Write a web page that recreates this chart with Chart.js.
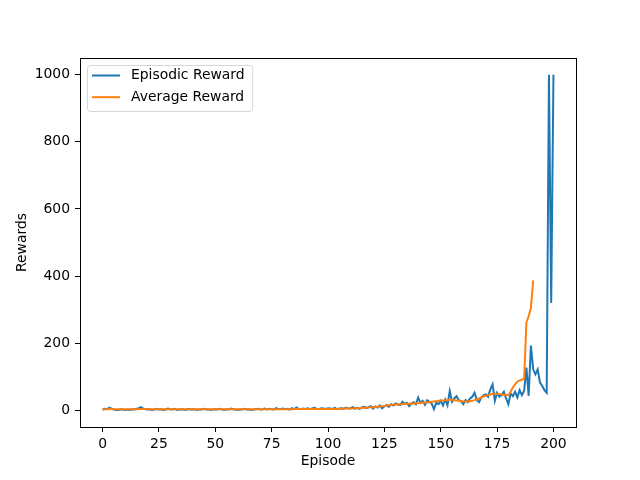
<!DOCTYPE html>
<html>
<head>
<meta charset="utf-8">
<script src="https://cdn.jsdelivr.net/npm/chart.js@4/dist/chart.umd.min.js"></script>
<style>
  html, body { margin: 0; padding: 0; background: #fff; }
  #wrap { width: 640px; height: 480px; }
</style>
</head>
<body>
<div id="wrap"><canvas id="myChart" width="640" height="480"></canvas></div>
<script>
// rewards per episode (episode = index)
const episodicReward = [
  2, 4, 3, 8, 5, 2, 1, 1, 3, 2,
  1, 2, 1, 3, 2, 4, 6, 9, 5, 3,
  2, 3, 1, 2, 4, 2, 3, 1, 2, 5,
  3, 2, 4, 1, 2, 3, 2, 1, 4, 2,
  3, 2, 1, 3, 2, 4, 2, 3, 1, 2,
  3, 2, 4, 2, 1, 3, 2, 5, 3, 2,
  1, 3, 2, 4, 2, 3, 1, 2, 3, 4,
  2, 3, 5, 2, 4, 3, 2, 6, 3, 4,
  5, 3, 4, 2, 6, 3, 8, 4, 3, 5,
  4, 6, 3, 5, 7, 4, 3, 6, 5, 4,
  6, 5, 4, 7, 3, 5, 6, 4, 8, 5,
  6, 9, 5, 7, 4, 8, 10, 6, 9, 12,
  5, 11, 8, 14, 6, 12, 16, 10, 18, 14,
  20, 17, 15, 25, 19, 22, 12, 20, 24, 18,
  38, 22, 28, 16, 30, 25, 20, 3, 22, 18,
  28, 14, 32, 15, 57, 25, 35, 42, 30, 27,
  18, 30, 24, 35, 40, 52, 30, 24, 38, 45,
  47, 40, 62, 77, 28, 52, 40, 45, 55, 35,
  18, 50, 42, 55, 38, 60, 45, 58, 127, 43,
  193, 122, 107, 122, 83, 72, 60, 52, 1000, 320,
  1000
];

const averageReward = [
  2, 3, 3, 4, 4, 3, 3, 3, 3, 3,
  3, 3, 3, 3, 3, 3, 3, 4, 4, 4,
  4, 3, 3, 3, 3, 3, 3, 3, 3, 3,
  3, 3, 3, 3, 3, 3, 3, 3, 3, 3,
  3, 3, 3, 3, 3, 3, 3, 3, 3, 3,
  3, 3, 3, 3, 3, 3, 3, 3, 3, 3,
  3, 3, 3, 3, 3, 3, 3, 3, 3, 3,
  3, 3, 3, 3, 3, 3, 3, 3, 3, 3,
  3, 3, 3, 3, 3, 4, 4, 4, 4, 4,
  4, 4, 4, 4, 4, 4, 4, 4, 4, 4,
  4, 4, 4, 4, 4, 4, 5, 5, 5, 5,
  5, 5, 6, 6, 6, 7, 7, 8, 8, 9,
  9, 10, 10, 11, 12, 13, 14, 15, 16, 16,
  17, 17, 18, 18, 19, 19, 19, 20, 20, 21,
  21, 22, 22, 23, 23, 24, 25, 26, 27, 28,
  29, 29, 30, 30, 31, 31, 30, 29, 28, 27,
  26, 26, 26, 27, 28, 30, 32, 35, 38, 41,
  43, 45, 47, 48, 49, 49, 48, 47, 46, 46,
  45, 55, 68, 78, 85, 89, 91, 94, 262, 280,
  305, 387
];

const seriesNames = ['Episodic Reward', 'Average Reward'];
const seriesColors = ['#1f77b4', '#ff7f0e'];
const xTicks = [0, 25, 50, 75, 100, 125, 150, 175, 200];
const yTicks = [0, 200, 400, 600, 800, 1000];

const FONT = "'DejaVu Sans', sans-serif";

const toPoints = arr => arr.map((v, i) => ({ x: i, y: v }));

// axes frame on all four sides, like matplotlib
const framePlugin = {
  id: 'frame',
  afterDraw(chart) {
    const { ctx, chartArea: a } = chart;
    ctx.save();
    ctx.strokeStyle = '#000';
    ctx.lineWidth = 1;
    ctx.strokeRect(Math.round(a.left) + 0.5, Math.round(a.top) + 0.5,
      Math.round(a.right - a.left), Math.round(a.bottom - a.top));
    ctx.restore();
  }
};

// legend box in the upper left of the axes
const boxLegend = {
  id: 'boxLegend',
  afterDraw(chart) {
    const { ctx, chartArea: a } = chart;
    ctx.save();
    ctx.font = '13.9px ' + FONT;
    const textX = a.left + 51;
    let maxW = 0;
    chart.data.datasets.forEach(ds => { maxW = Math.max(maxW, ctx.measureText(ds.label).width); });
    const bx = a.left + 7.5, by = a.top + 7.5;
    const bw = textX + maxW + 8 - bx, bh = 46;
    ctx.beginPath();
    ctx.roundRect(bx, by, bw, bh, 3);
    ctx.fillStyle = 'rgba(255,255,255,0.8)';
    ctx.fill();
    ctx.strokeStyle = 'rgba(204,204,204,0.8)';
    ctx.lineWidth = 1;
    ctx.stroke();
    chart.data.datasets.forEach((ds, i) => {
      const y = a.top + 17.5 + i * 21.7;
      ctx.beginPath();
      ctx.moveTo(a.left + 12, y);
      ctx.lineTo(a.left + 40, y);
      ctx.strokeStyle = ds.borderColor;
      ctx.lineWidth = 2;
      ctx.stroke();
      ctx.fillStyle = '#000';
      ctx.textBaseline = 'middle';
      ctx.fillText(ds.label, textX, y);
    });
    ctx.restore();
  }
};

const config = {
  type: 'line',
  data: {
    datasets: [{
      label: seriesNames[0],
      data: toPoints(episodicReward),
      borderColor: seriesColors[0],
      backgroundColor: seriesColors[0],
      borderWidth: 2,
      pointRadius: 0,
      order: 1
    }, {
      label: seriesNames[1],
      data: toPoints(averageReward),
      borderColor: seriesColors[1],
      backgroundColor: seriesColors[1],
      borderWidth: 2,
      pointRadius: 0,
      order: 0
    }]
  },
  options: {
    responsive: false,
    animation: false,
    layout: { padding: { top: 58, right: 64, left: 0, bottom: 0 } },
    scales: {
      x: {
        type: 'linear',
        min: -10,
        max: 210,
        afterBuildTicks: axis => { axis.ticks = xTicks.map(v => ({ value: v })); },
        afterFit: scale => { scale.height = 53; },
        border: { display: false },
        grid: { drawOnChartArea: false, drawTicks: true, tickLength: 5, tickColor: '#000' },
        ticks: {
          color: '#000', padding: 4, maxRotation: 0, autoSkip: false,
          font: { family: FONT, size: 13.9 },
          callback: v => String(v)
        },
        title: { display: true, text: 'Episode', color: '#000', padding: { top: 0, bottom: 10 }, font: { family: FONT, size: 13.9 } }
      },
      y: {
        min: -50,
        max: 1050,
        afterBuildTicks: axis => { axis.ticks = yTicks.map(v => ({ value: v })); },
        afterFit: scale => { scale.width = 80; },
        border: { display: false },
        grid: { drawOnChartArea: false, drawTicks: true, tickLength: 5, tickColor: '#000' },
        ticks: {
          color: '#000', padding: 5, autoSkip: false,
          font: { family: FONT, size: 13.9 },
          callback: v => String(v)
        },
        title: { display: true, text: 'Rewards', color: '#000', padding: { top: 14, bottom: 0 }, font: { family: FONT, size: 13.9 } }
      }
    },
    plugins: {
      legend: { display: false },
      tooltip: { enabled: false }
    }
  },
  plugins: [framePlugin, boxLegend]
};

const myChart = new Chart(document.getElementById('myChart'), config);
</script>
</body>
</html>
